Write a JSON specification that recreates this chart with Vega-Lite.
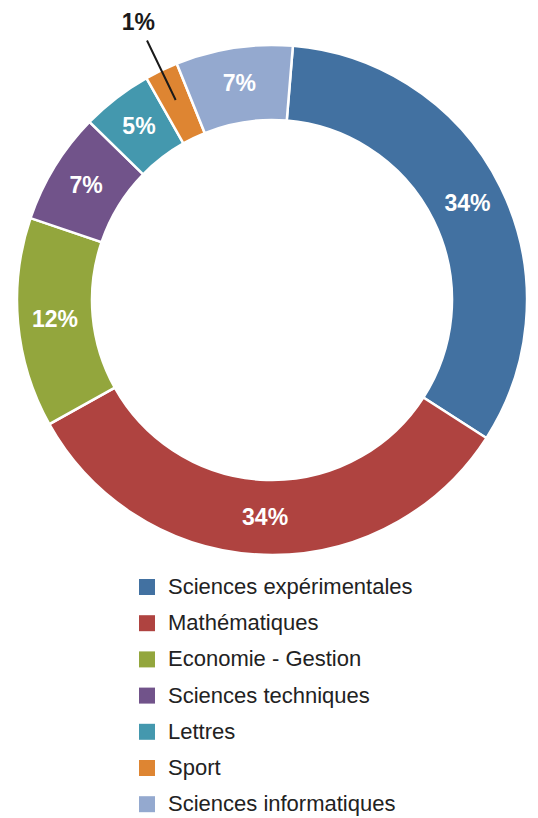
{
  "$schema": "https://vega.github.io/schema/vega-lite/v6.json",
  "width": 538,
  "height": 818,
  "autosize": "none",
  "padding": 0,
  "background": "white",
  "config": {"view": {"stroke": null}},
  "data": {
    "values": [
      {"rank": 1, "category": "Sciences expérimentales", "share": 32.8, "pct": "34%"},
      {"rank": 2, "category": "Mathématiques", "share": 32.8, "pct": "34%"},
      {"rank": 3, "category": "Economie - Gestion", "share": 13.3, "pct": "12%"},
      {"rank": 4, "category": "Sciences techniques", "share": 7.1, "pct": "7%"},
      {"rank": 5, "category": "Lettres", "share": 4.5, "pct": "5%"},
      {"rank": 6, "category": "Sport", "share": 2.1, "pct": "1%"},
      {"rank": 7, "category": "Sciences informatiques", "share": 7.4, "pct": "7%"}
    ]
  },
  "encoding": {
    "theta": {"field": "share", "type": "quantitative", "stack": true, "scale": {"range": [0.082, 6.3652]}},
    "order": {"field": "rank", "type": "quantitative"},
    "x": {"value": 272},
    "y": {"value": 300}
  },
  "layer": [
    {
      "mark": {"type": "arc", "radius": 255, "radius2": 180, "stroke": "white", "strokeWidth": 2.5},
      "encoding": {
        "color": {
          "field": "category",
          "type": "nominal",
          "scale": {
            "domain": ["Sciences expérimentales", "Mathématiques", "Economie - Gestion", "Sciences techniques", "Lettres", "Sport", "Sciences informatiques"],
            "range": ["#4271A1", "#AF4340", "#93A63D", "#71538A", "#4498AE", "#DE8532", "#94A9CF"]
          },
          "legend": {
            "title": null,
            "orient": "none",
            "legendX": 136,
            "legendY": 576,
            "direction": "vertical",
            "padding": 0,
            "symbolType": "square",
            "symbolSize": 256,
            "symbolStrokeWidth": 0,
            "labelFont": "Liberation Sans",
            "labelFontSize": 22,
            "labelColor": "#222222",
            "labelOffset": 10,
            "labelLimit": 400,
            "rowPadding": 14.2
          }
        }
      }
    },
    {
      "mark": {"type": "arc", "radius": 288, "radius2": 222, "padAngle": 0.3, "fill": "transparent", "fillOpacity": 0, "strokeWidth": 2, "strokeCap": "butt"},
      "encoding": {
        "detail": {"field": "category"},
        "stroke": {"condition": {"test": "datum.category === 'Sport'", "value": "#1a1a1a"}, "value": "transparent"}
      }
    },
    {
      "mark": {"type": "text", "radius": 218, "font": "Liberation Sans", "fontWeight": "bold", "fontSize": 23, "color": "white", "align": "center", "baseline": "middle"},
      "encoding": {
        "detail": {"field": "category"},
        "text": {"condition": {"test": "datum.category === 'Sport'", "value": ""}, "field": "pct"}
      }
    },
    {
      "mark": {"type": "text", "radius": 308, "font": "Liberation Sans", "fontWeight": "bold", "fontSize": 23, "color": "#1a1a1a", "align": "center", "baseline": "middle"},
      "encoding": {
        "detail": {"field": "category"},
        "text": {"condition": {"test": "datum.category !== 'Sport'", "value": ""}, "field": "pct"}
      }
    }
  ]
}
